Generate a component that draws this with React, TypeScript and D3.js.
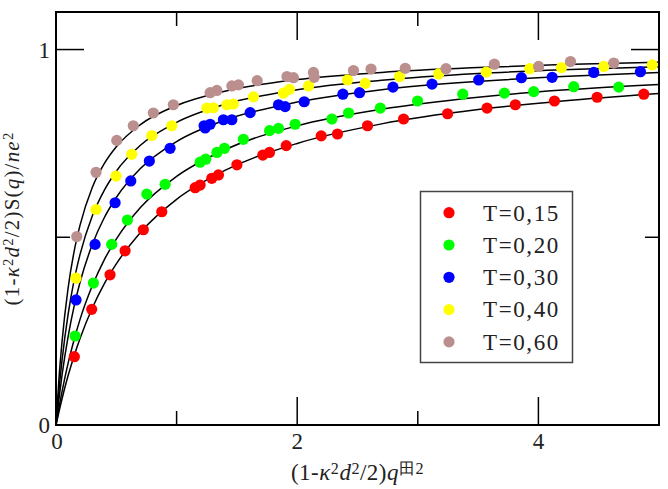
import React, { useEffect, useRef } from 'react';
import * as d3 from 'd3';

// legend labels and colours, one per temperature
const labels = ['T=0,15', 'T=0,20', 'T=0,30', 'T=0,40', 'T=0,60'];
const colors = ['#ff0000', '#00ff00', '#0000ff', '#ffff00', '#bc8f8f'];

// simulation points [x, y]
const ptsT015: [number, number][] = [
    [0.152, 0.182], [0.296, 0.308], [0.448, 0.400], [0.573, 0.464], [0.724, 0.520],
    [0.877, 0.568], [1.154, 0.632], [1.195, 0.639], [1.292, 0.657], [1.347, 0.666],
    [1.500, 0.693], [1.715, 0.719], [1.770, 0.726], [1.909, 0.744], [2.199, 0.770],
    [2.334, 0.775], [2.583, 0.797], [2.882, 0.815], [3.247, 0.829], [3.574, 0.844],
    [3.809, 0.853], [4.133, 0.863], [4.487, 0.873], [4.874, 0.881]
];
const ptsT020: [number, number][] = [
    [0.158, 0.237], [0.310, 0.378], [0.462, 0.481], [0.592, 0.546], [0.753, 0.615],
    [0.905, 0.641], [1.195, 0.700], [1.242, 0.708], [1.334, 0.726], [1.397, 0.737],
    [1.554, 0.761], [1.771, 0.784], [1.845, 0.790], [1.983, 0.801], [2.288, 0.815],
    [2.426, 0.831], [2.689, 0.844], [2.998, 0.863], [3.373, 0.881], [3.718, 0.884],
    [3.961, 0.888], [4.293, 0.901], [4.666, 0.900]
];
const ptsT030: [number, number][] = [
    [0.166, 0.333], [0.324, 0.481], [0.490, 0.592], [0.620, 0.650], [0.774, 0.703],
    [0.946, 0.737], [1.228, 0.797], [1.237, 0.791], [1.278, 0.801], [1.388, 0.813],
    [1.458, 0.813], [1.610, 0.832], [1.845, 0.853], [1.900, 0.848], [2.058, 0.861],
    [2.379, 0.881], [2.517, 0.885], [2.794, 0.900], [3.118, 0.908], [3.505, 0.919],
    [3.859, 0.925], [4.114, 0.926], [4.459, 0.939], [4.846, 0.941]
];
const ptsT040: [number, number][] = [
    [0.166, 0.391], [0.332, 0.574], [0.498, 0.663], [0.628, 0.721], [0.794, 0.771],
    [0.960, 0.797], [1.251, 0.844], [1.305, 0.845], [1.417, 0.853], [1.471, 0.855],
    [1.637, 0.874], [1.886, 0.884], [1.936, 0.894], [2.094, 0.903], [2.417, 0.919],
    [2.564, 0.910], [2.849, 0.928], [3.173, 0.935], [3.568, 0.940], [3.928, 0.949],
    [4.191, 0.952], [4.542, 0.955], [4.944, 0.959]
];
const ptsT060: [number, number][] = [
    [0.172, 0.502], [0.332, 0.673], [0.504, 0.758], [0.641, 0.797], [0.807, 0.831],
    [0.973, 0.853], [1.278, 0.885], [1.334, 0.891], [1.458, 0.903], [1.513, 0.906],
    [1.668, 0.917], [1.915, 0.928], [1.969, 0.925], [2.135, 0.939], [2.141, 0.926],
    [2.467, 0.944], [2.612, 0.948], [2.896, 0.950], [3.234, 0.949], [3.635, 0.961],
    [4.002, 0.955], [4.266, 0.968], [4.625, 0.964]
];

// fitted curves, read at these x positions
const fitX = [0, 0.025, 0.05, 0.1, 0.15, 0.2, 0.3, 0.4, 0.5, 0.7, 1, 1.4, 2, 2.7, 3.5, 4.2, 5];
const fitT015 = [0, 0.036, 0.070, 0.131, 0.184, 0.231, 0.311, 0.376, 0.429, 0.513, 0.601, 0.678, 0.750, 0.802, 0.840, 0.863, 0.883];
const fitT020 = [0, 0.047, 0.089, 0.164, 0.227, 0.282, 0.370, 0.440, 0.495, 0.579, 0.662, 0.733, 0.797, 0.841, 0.873, 0.892, 0.907];
const fitT030 = [0, 0.071, 0.133, 0.235, 0.316, 0.381, 0.480, 0.552, 0.606, 0.683, 0.755, 0.812, 0.860, 0.893, 0.915, 0.928, 0.939];
const fitT040 = [0, 0.094, 0.172, 0.294, 0.385, 0.455, 0.556, 0.625, 0.676, 0.745, 0.806, 0.854, 0.893, 0.918, 0.936, 0.946, 0.954];
const fitT060 = [0, 0.125, 0.222, 0.364, 0.462, 0.533, 0.632, 0.696, 0.741, 0.800, 0.851, 0.889, 0.920, 0.939, 0.952, 0.960, 0.966];

const xMajor = [0, 2, 4];
const xMinor = [1, 3];
const yMajor = [0, 1];
const yMinor = [0.5];

const points = [ptsT015, ptsT020, ptsT030, ptsT040, ptsT060];
const fits = [fitT015, fitT020, fitT030, fitT040, fitT060];

const width = 668;
const height = 489;
const margin = { left: 56, right: 9, top: 12, bottom: 64 };
const font = '"Liberation Serif", "Times New Roman", serif';

type Txt = d3.Selection<SVGTextElement, unknown, null, undefined>;

// pieces of a rich axis title
const plain = (t: Txt, s: string) => { t.append('tspan').text(s); };
const it = (t: Txt, s: string) => { t.append('tspan').attr('font-style', 'italic').text(s); };
const sup = (t: Txt, s: string) => {
    t.append('tspan').attr('baseline-shift', '40%').attr('font-size', '70%').text(s);
};

export default function App() {
    const svgRef = useRef<SVGSVGElement>(null);

    useEffect(() => {
        const svg = d3.select(svgRef.current);
        svg.selectAll('*').remove();

        const x0 = margin.left, x1 = width - margin.right;
        const y0 = height - margin.bottom, y1 = margin.top;
        const xScale = d3.scaleLinear().domain([0, 5]).range([x0, x1]);
        const yScale = d3.scaleLinear().domain([0, 1.1]).range([y0, y1]);

        // curves
        const line = d3.line<number>()
            .x((_, i) => xScale(fitX[i]))
            .y((d) => yScale(d))
            .curve(d3.curveMonotoneX);
        svg.append('g').selectAll('path').data(fits).enter().append('path')
            .attr('d', (d) => line(d))
            .attr('fill', 'none')
            .attr('stroke', '#000')
            .attr('stroke-width', 1.5);

        // points
        points.forEach((pts, i) => {
            svg.append('g').selectAll('circle').data(pts).enter().append('circle')
                .attr('cx', (d) => xScale(d[0]))
                .attr('cy', (d) => yScale(d[1]))
                .attr('r', 5.6)
                .attr('fill', colors[i]);
        });

        // frame
        svg.append('rect')
            .attr('x', x0).attr('y', y1)
            .attr('width', x1 - x0).attr('height', y0 - y1)
            .attr('fill', 'none').attr('stroke', '#000').attr('stroke-width', 2);

        // ticks on all sides
        const ticks = svg.append('g').attr('stroke', '#000').attr('stroke-width', 1.5);
        const xt = xMajor.map((v) => ({ v, len: 28 })).concat(xMinor.map((v) => ({ v, len: 14 })));
        xt.forEach((t) => {
            const px = xScale(t.v);
            ticks.append('line').attr('x1', px).attr('x2', px).attr('y1', y0).attr('y2', y0 - t.len);
            ticks.append('line').attr('x1', px).attr('x2', px).attr('y1', y1).attr('y2', y1 + t.len);
        });
        const yt = yMajor.map((v) => ({ v, len: 28 })).concat(yMinor.map((v) => ({ v, len: 14 })));
        yt.forEach((t) => {
            const py = yScale(t.v);
            ticks.append('line').attr('y1', py).attr('y2', py).attr('x1', x0).attr('x2', x0 + t.len);
            ticks.append('line').attr('y1', py).attr('y2', py).attr('x1', x1).attr('x2', x1 - t.len);
        });

        // tick labels
        svg.append('g').selectAll('text').data(xMajor).enter().append('text')
            .attr('x', (d) => xScale(d) + (d === 0 ? 1 : 0))
            .attr('y', y0 + 24)
            .attr('text-anchor', 'middle')
            .attr('font-family', font).attr('font-size', 23).attr('fill', '#222')
            .text((d) => d);
        svg.append('g').selectAll('text').data(yMajor).enter().append('text')
            .attr('x', x0 - 6)
            .attr('y', (d) => yScale(d) + 8)
            .attr('text-anchor', 'end')
            .attr('font-family', font).attr('font-size', 23).attr('fill', '#222')
            .text((d) => d);

        // axis titles
        const xl = svg.append('text')
            .attr('x', (x0 + x1) / 2).attr('y', 480)
            .attr('text-anchor', 'middle')
            .attr('font-family', font).attr('font-size', 23).attr('fill', '#222')
            .attr('letter-spacing', 0.5);
        plain(xl, '(1-'); it(xl, 'κ'); sup(xl, '2'); it(xl, 'd'); sup(xl, '2');
        plain(xl, '/2)'); it(xl, 'q'); sup(xl, '田2');

        const yl = svg.append('text')
            .attr('transform', `translate(19, ${(y0 + y1) / 2}) rotate(-90)`)
            .attr('text-anchor', 'middle')
            .attr('font-family', font).attr('font-size', 21).attr('fill', '#222')
            .attr('letter-spacing', 1.2);
        plain(yl, '(1-'); it(yl, 'κ'); sup(yl, '2'); it(yl, 'd'); sup(yl, '2');
        plain(yl, '/2)S('); it(yl, 'q'); plain(yl, ')/'); it(yl, 'ne'); sup(yl, '2');

        // legend
        const lg = svg.append('g');
        lg.append('rect')
            .attr('x', 420.5).attr('y', 191.5).attr('width', 152).attr('height', 171)
            .attr('fill', '#fff').attr('stroke', '#444').attr('stroke-width', 1.5);
        labels.forEach((lab, i) => {
            const cy = 212.7 + i * 32.3;
            lg.append('circle').attr('cx', 449).attr('cy', cy).attr('r', 5.6).attr('fill', colors[i]);
            lg.append('text').attr('x', 483).attr('y', cy + 7.8)
                .attr('font-family', font).attr('font-size', 23).attr('fill', '#222')
                .attr('letter-spacing', 1.6)
                .text(lab);
        });
    }, []);

    return (
        <svg ref={svgRef} width={width} height={height}
            style={{ position: 'absolute', left: 0, top: 0, background: '#fff' }} />
    );
}
